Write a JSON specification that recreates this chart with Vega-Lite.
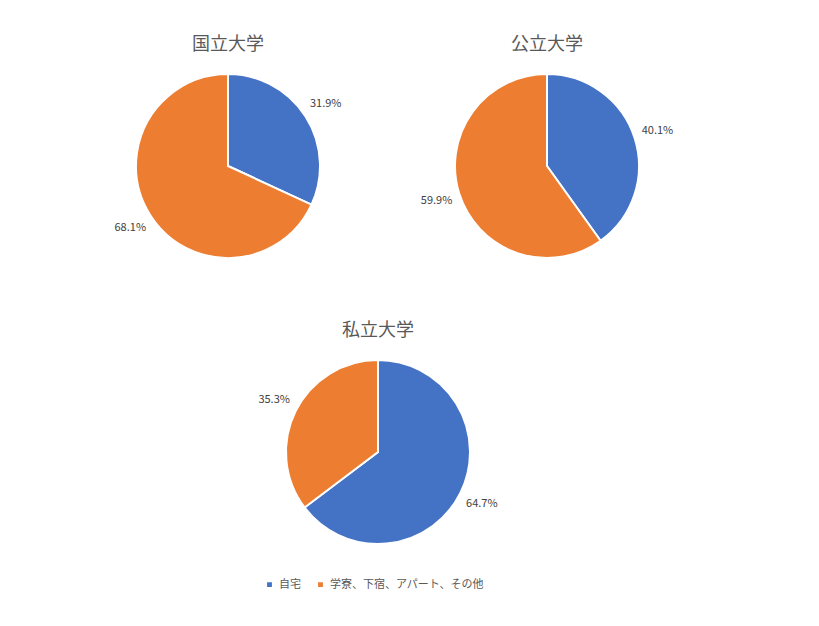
{
  "$schema": "https://vega.github.io/schema/vega-lite/v6.json",
  "description": "Share of university students living at home vs. in dormitories, lodgings or apartments, by type of university.",
  "padding": {"left": 88, "top": 36, "right": 5, "bottom": 5},
  "data": {
    "values": [
      {"univ": "国立大学", "housing": "自宅", "share": 0.319},
      {"univ": "国立大学", "housing": "学寮、下宿、アパート、その他", "share": 0.681},
      {"univ": "公立大学", "housing": "自宅", "share": 0.401},
      {"univ": "公立大学", "housing": "学寮、下宿、アパート、その他", "share": 0.599},
      {"univ": "私立大学", "housing": "自宅", "share": 0.647},
      {"univ": "私立大学", "housing": "学寮、下宿、アパート、その他", "share": 0.353}
    ]
  },
  "vconcat": [
    {
      "hconcat": [
        {
          "title": "国立大学",
          "width": 280,
          "height": 184,
          "transform": [{"filter": "datum.univ === '国立大学'"}],
          "encoding": {
            "theta": {"field": "share", "type": "quantitative", "stack": true},
            "order": {"field": "housing", "sort": "descending"},
            "color": {"field": "housing", "type": "nominal", "sort": ["自宅", "学寮、下宿、アパート、その他"], "title": null}
          },
          "layer": [
            {"mark": {"type": "arc", "outerRadius": 92, "stroke": "white", "strokeWidth": 2}},
            {"mark": {"type": "text", "radius": 116, "fontSize": 11}, "encoding": {"text": {"field": "share", "format": ".1%"}, "color": {"value": "#404040"}}}
          ]
        },
        {
          "title": "公立大学",
          "width": 280,
          "height": 184,
          "transform": [{"filter": "datum.univ === '公立大学'"}],
          "encoding": {
            "theta": {"field": "share", "type": "quantitative", "stack": true},
            "order": {"field": "housing", "sort": "descending"},
            "color": {"field": "housing", "type": "nominal", "sort": ["自宅", "学寮、下宿、アパート、その他"], "title": null}
          },
          "layer": [
            {"mark": {"type": "arc", "outerRadius": 92, "stroke": "white", "strokeWidth": 2}},
            {"mark": {"type": "text", "radius": 116, "fontSize": 11}, "encoding": {"text": {"field": "share", "format": ".1%"}, "color": {"value": "#404040"}}}
          ]
        }
      ],
      "spacing": 39
    },
    {
      "title": "私立大学",
      "width": 580,
      "height": 184,
      "transform": [{"filter": "datum.univ === '私立大学'"}],
      "encoding": {
        "theta": {"field": "share", "type": "quantitative", "stack": true},
        "order": {"field": "housing", "sort": "descending"},
        "color": {"field": "housing", "type": "nominal", "sort": ["自宅", "学寮、下宿、アパート、その他"], "title": null}
      },
      "layer": [
        {"mark": {"type": "arc", "outerRadius": 92, "stroke": "white", "strokeWidth": 2}},
        {"mark": {"type": "text", "radius": 116, "fontSize": 11}, "encoding": {"text": {"field": "share", "format": ".1%"}, "color": {"value": "#404040"}}}
      ]
    }
  ],
  "spacing": 60,
  "resolve": {"scale": {"color": "shared"}},
  "config": {
    "font": "Noto Sans CJK JP",
    "view": {"stroke": null},
    "range": {"category": ["#4472C4", "#ED7D31"]},
    "title": {"fontSize": 18, "fontWeight": "normal", "color": "#595959", "offset": 16},
    "text": {"font": "Noto Sans CJK JP"},
    "legend": {
      "orient": "none",
      "legendX": 176,
      "legendY": 505,
      "direction": "horizontal",
      "symbolType": "square",
      "symbolSize": 40,
      "labelFontSize": 11,
      "labelColor": "#595959",
      "columnPadding": 13,
      "labelFont": "Noto Sans CJK JP"
    }
  }
}
